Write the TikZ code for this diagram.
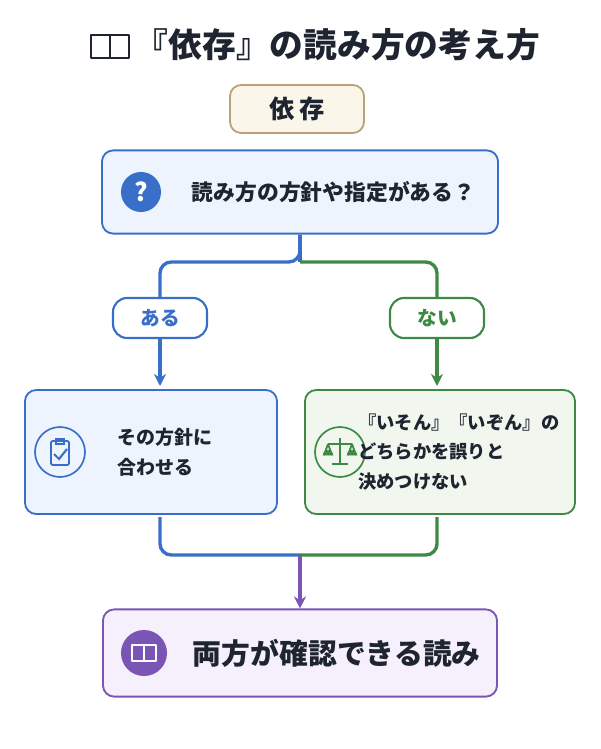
\documentclass[tikz,border=0pt]{standalone}
\usepackage{fontspec}
\setmainfont{Noto Sans CJK JP}
\usepackage{xcolor}
\usetikzlibrary{arrows.meta, positioning, calc}
\definecolor{qblue}{HTML}{3A6FC9}
\definecolor{qfill}{HTML}{EEF4FD}
\definecolor{ngreen}{HTML}{3E8A45}
\definecolor{nfill}{HTML}{F1F7EE}
\definecolor{rpurple}{HTML}{7A55B5}
\definecolor{rfill}{HTML}{F5F0FB}
\definecolor{kbrown}{HTML}{B9A27A}
\definecolor{kfill}{HTML}{FBF6EA}
\definecolor{ink}{HTML}{1F2530}
\begin{document}
\begin{tikzpicture}[x=0.025cm, y=-0.025cm,
    box/.style={draw, line width=1.3pt, rounded corners=8pt},
    pill/.style={draw, line width=1.5pt, rounded corners=10pt, fill=white, minimum width=2.35cm, minimum height=1cm, font=\bfseries\fontsize{14}{16}\selectfont},
    link/.style={line width=2.4pt, rounded corners=8pt},
    tip/.style={-{Stealth[length=3mm, width=3mm]}},
    txt/.style={text=ink, font=\bfseries\fontsize{13.5}{21}\selectfont, align=left, anchor=west}
]
\useasboundingbox (0,0) rectangle (600,749);

% Title
\node[font=\bfseries\fontsize{24}{28}\selectfont, text=ink, anchor=west] (title) at (130,45) {『依存』の読み方の考え方};
\draw[ink, line width=1.5pt, line join=round]
    (91,35) -- (91,58) -- (110,58) -- (110,35) -- cycle
    (110,35) -- (129,35) -- (129,58) -- (110,58);
\node[box, draw=kbrown, fill=kfill, minimum width=3.35cm, minimum height=1.2cm,
    font=\bfseries\fontsize{18}{20}\selectfont, text=ink] (kanji) at (297,109) {依\,存};

% Question
\node[box, draw=qblue, fill=qfill, minimum width=9.9cm, minimum height=2.08cm] (q) at (300,192) {};
\node[circle, fill=qblue, minimum size=1cm, text=white, font=\bfseries\fontsize{18}{20}\selectfont] (qicon) at (141,192) {?};
\node[txt, font=\bfseries\fontsize{15.5}{20}\selectfont] (qtext) at (187,192) {読み方の方針や指定がある？};

% Branches
\node[pill, draw=qblue, text=qblue] (yes) at (160,318) {ある};
\node[pill, draw=ngreen, text=ngreen] (no) at (437,318) {ない};
\node[box, draw=qblue, fill=qfill, minimum width=6.3cm, minimum height=3.1cm] (left) at (151,452) {};
\node[box, draw=ngreen, fill=nfill, minimum width=6.75cm, minimum height=3.1cm] (right) at (440,452) {};
\node[circle, draw=qblue, line width=1.2pt, minimum size=1.25cm] (licon) at (60,452) {};
\draw[qblue, line width=1.3pt, rounded corners=1pt] (51,441) rectangle (69,465);
\draw[qblue, line width=1.3pt] (56,439) rectangle (64,444);
\draw[qblue, line width=1.5pt] (54,454) -- (59,459) -- (67,449);
\node[circle, draw=ngreen, line width=1.2pt, minimum size=1.25cm] (ricon) at (340,452) {};
\draw[ngreen, line width=1.3pt]
    (340,438) -- (340,464) (332,464) -- (348,464) (328,444) -- (352,444)
    (328,444) -- (324,455) (328,444) -- (332,455) (352,444) -- (348,455) (352,444) -- (356,455);
\draw[ngreen, fill=ngreen] (323,455) arc[start angle=180, end angle=360, radius=5] -- cycle
    (347,455) arc[start angle=180, end angle=360, radius=5] -- cycle;
\node[txt] (ltext) at (113,452) {その方針に\\合わせる};
\node[txt, inner xsep=0pt, font=\bfseries\fontsize{13}{21}\selectfont] (rtext) at (358,452) {『いそん』『いぞん』の\\どちらかを誤りと\\決めつけない};

% Result
\node[box, draw=rpurple, fill=rfill, minimum width=9.85cm, minimum height=2.18cm] (res) at (300,653) {};
\node[circle, fill=rpurple, minimum size=1.15cm] (resicon) at (144,653) {};
\draw[white, line width=1.3pt, line join=round]
    (132,645) -- (132,661) -- (144,661) -- (144,645) -- cycle
    (144,645) -- (156,645) -- (156,661) -- (144,661);
\node[txt, font=\bfseries\fontsize{20.5}{24}\selectfont] (restext) at (188,653) {両方が確認できる読み};

% Connectors
\coordinate (split) at (300,262);
\coordinate (merge) at (300,555);
\draw[link, qblue] (q.south) -- (split) -| (yes.north);
\draw[link, ngreen] (split) -| (no.north);
\draw[link, qblue] (q.south) -- (split);
\draw[link, tip, qblue] (yes.south) -- (160,386);
\draw[link, tip, ngreen] (no.south) -- (437,386);
\draw[link, qblue] (160,517) |- (merge);
\draw[link, ngreen] (437,517) |- (merge);
\draw[link, tip, rpurple] (merge) -- (res.north);
\end{tikzpicture}
\end{document}
